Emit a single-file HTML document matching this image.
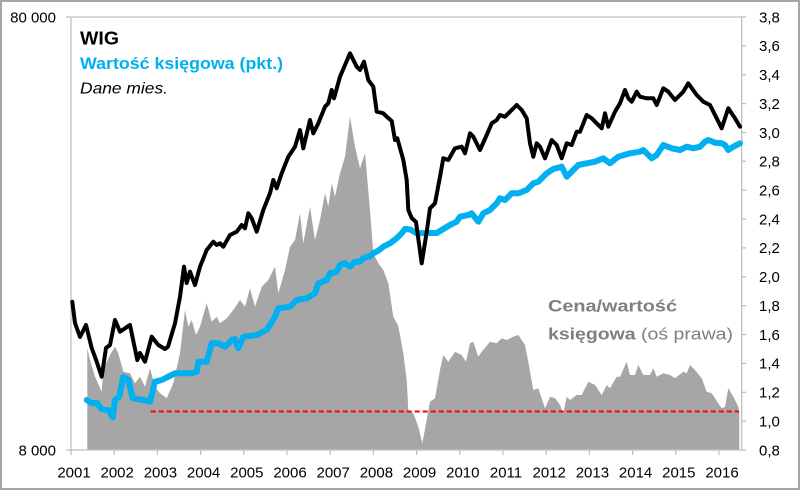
<!DOCTYPE html>
<html><head><meta charset="utf-8"><style>
html,body{margin:0;padding:0;background:#fff;}
svg{display:block;}
text{font-family:"Liberation Sans",sans-serif;}
</style></head><body>
<svg width="800" height="490" viewBox="0 0 800 490" xmlns="http://www.w3.org/2000/svg">
<rect x="1" y="1" width="798" height="488" fill="#fff" stroke="#a6a6a6" stroke-width="2"/>
<!-- gray area P/BV -->
<polygon fill="#a6a6a6" points="87.3,450 87.3,348.3 90,360 95,376.7 101.7,391.7 103.3,370 110,355 115,346.7 118.3,353.3 123.3,371.7 130,373.3 135,383.3 140,376.7 145,386.7 150,368.3 155,386.7 160,393.3 166.7,398.3 173.3,383.3 180,353.3 185,310 188.3,326.7 191.7,320 196,335 200,326.7 206.7,303.3 211.7,321.7 216.7,316.7 220,323.3 226.7,318.3 233.3,310 240,300 245,306.7 250,288.3 255,306.7 261.7,286.7 268.3,280 275,266.7 278.3,293.3 285,270 290,246.7 295,240 300,213.3 303.3,243.3 310,206.7 315,240 320,220 325,193.3 328.3,206.7 331.7,183.3 335,196.7 340,173.3 345,156.7 350,116.7 355,146.7 360,168.3 365,153.3 370,210 373.3,253.3 378.3,263.3 383.3,270 388.3,283.3 393.3,316.7 398.3,326 403.3,353.3 406.7,380 408.3,410 413.3,413.3 418.3,426.7 422.3,443.3 426.7,420 430,401.7 435,398.3 440,370 443.3,355 448.3,361.7 455,351.7 461.7,355 466,361.7 470,343.3 473.3,341.7 478.3,356.7 481.7,351.7 490,341.7 496.7,343.3 501.7,338.3 506.7,340 513.3,336.7 518.3,335 525,345 528.3,361.7 533.3,390 538.3,388.3 545,408.3 550,396.7 555,398.3 560,405 563.3,413.3 566.7,396.7 570,400 576.7,395 581.7,395 588.3,381.7 595,385 601.7,395 606.7,385 610,388.3 616.7,376.7 620,376.7 626.7,361.7 630,375 635,375 638.3,365 643.3,375 650,375 653.3,368.3 656.7,376.7 663.3,373.3 670,375 675,378.3 683.3,371.7 686.7,373.3 690,365 695,370 701.7,378.3 706.7,391.7 711.7,393.3 718.3,403.3 721.7,408.3 725,406.7 728.3,388.3 733.3,396.7 738.3,406.7 739.3,411.7 739.3,450"/>
<!-- axes -->
<g stroke="#bfbfbf" stroke-width="1.3" fill="none">
<line x1="66" y1="17" x2="742" y2="17"/>
<line x1="71" y1="17" x2="71" y2="455"/>
<line x1="66" y1="450" x2="742" y2="450"/>
<line x1="741.7" y1="17" x2="741.7" y2="450"/>
</g>
<g stroke="#bfbfbf" stroke-width="1.3">
<line x1="114.2" y1="450" x2="114.2" y2="455"/><line x1="157.4" y1="450" x2="157.4" y2="455"/><line x1="200.6" y1="450" x2="200.6" y2="455"/><line x1="243.8" y1="450" x2="243.8" y2="455"/><line x1="287" y1="450" x2="287" y2="455"/><line x1="330.2" y1="450" x2="330.2" y2="455"/><line x1="373.4" y1="450" x2="373.4" y2="455"/><line x1="416.6" y1="450" x2="416.6" y2="455"/><line x1="459.8" y1="450" x2="459.8" y2="455"/><line x1="503" y1="450" x2="503" y2="455"/><line x1="546.2" y1="450" x2="546.2" y2="455"/><line x1="589.4" y1="450" x2="589.4" y2="455"/><line x1="632.6" y1="450" x2="632.6" y2="455"/><line x1="675.8" y1="450" x2="675.8" y2="455"/><line x1="719" y1="450" x2="719" y2="455"/>
<line x1="741.7" y1="17" x2="746" y2="17"/><line x1="741.7" y1="45.9" x2="746" y2="45.9"/><line x1="741.7" y1="74.7" x2="746" y2="74.7"/><line x1="741.7" y1="103.6" x2="746" y2="103.6"/><line x1="741.7" y1="132.5" x2="746" y2="132.5"/><line x1="741.7" y1="161.3" x2="746" y2="161.3"/><line x1="741.7" y1="190.2" x2="746" y2="190.2"/><line x1="741.7" y1="219.1" x2="746" y2="219.1"/><line x1="741.7" y1="247.9" x2="746" y2="247.9"/><line x1="741.7" y1="276.8" x2="746" y2="276.8"/><line x1="741.7" y1="305.7" x2="746" y2="305.7"/><line x1="741.7" y1="334.5" x2="746" y2="334.5"/><line x1="741.7" y1="363.4" x2="746" y2="363.4"/><line x1="741.7" y1="392.3" x2="746" y2="392.3"/><line x1="741.7" y1="421.1" x2="746" y2="421.1"/><line x1="741.7" y1="450" x2="746" y2="450"/>
</g>
<!-- red dashed -->
<line x1="150.7" y1="411.5" x2="739" y2="411.5" stroke="#ff0000" stroke-width="2" stroke-dasharray="5,3"/>
<!-- blue line -->
<polyline fill="none" stroke="#00b0f0" stroke-width="6" stroke-linejoin="round" stroke-linecap="round" points="86.7,400 91.7,403.3 96.7,402.7 101.7,409.3 108.3,410 112.7,417.3 115,400 119.3,396.7 123.3,376.7 128.3,380 132.7,398.3 143.3,400 150,401.7 155,381.7 161.7,380 168.3,376.7 175,373.3 191.7,373.3 196.7,371.7 198.3,361.7 206.7,361.7 211.7,343.3 218.3,343.3 225,346.7 231.7,340 235,339 238.3,348.3 243.3,336.7 256.7,335 266.7,330 275,316.7 278.3,308.3 290,306.7 296.7,300 306.7,298.3 315,293.3 318.3,283.3 326.7,280 330,273.3 336.7,271.7 340,265 345,263.3 350,266.7 355,261.7 360,261.7 363.3,258.3 370,256 373.3,253.3 378.3,250.7 383.3,246.7 390,243.3 396.7,238.3 401.7,233.3 405,229 410,229.5 416.7,233.3 426.7,233 436.7,233 443.3,229 450,225 456.7,221.7 460,216.7 468.3,215 471.7,213.3 478.3,221.7 483.3,213.3 490,210 496.7,203.3 500,198.3 505,200 511.7,193.3 518.3,193.3 526.7,190 533.3,183.3 538.3,181.7 546.7,173.3 553.3,169 561.7,166.7 566.7,176.7 573.3,170 578.3,165 586.7,163.3 595,161.7 603.3,158.3 610,163.3 618.3,156.7 630,153.3 640,151.7 643.3,150 651.7,158.3 656.7,155 663.3,145 671.7,148.3 680,150 686.7,146.7 693.3,148.3 700,146.7 705,141.7 708.3,140 715,142.7 721.7,143.3 725,145 728.3,150 733.3,146.7 740,143.3"/>
<!-- black WIG -->
<polyline fill="none" stroke="#000" stroke-width="4" stroke-linejoin="round" stroke-linecap="round" points="72.3,301.7 75,323 80,337 86,325 91.7,348 96.7,361.7 101.7,376.7 106,348 110,345 115,320 120,331.7 130,325 137.3,360 140,353 145,361.7 151.7,336.7 158.3,345 165,349 168,346.7 175,323.3 180,296.7 184,266.7 186.7,283 190,271.7 195,285 200,266.7 206.7,250 213.3,241.7 216.7,245 220,243.3 223.3,246.7 230,235 236.7,231.7 241.7,225 245,228.3 248.3,213.3 251.7,218.3 256.7,231.7 263.3,210 270,193.3 273.3,180 276.7,188.3 281.7,173.3 288.3,156.7 295,146.7 300,130 303.3,148.3 310,120 313.3,133.3 318.3,123.3 325,106.7 328.3,103.3 331.7,90 334,98.3 340,76.7 345,65 350,53.3 356.7,66.7 360,70 364,61.7 368.3,80 373.3,86.7 376.7,111.7 383.3,113.3 386.7,116.7 391.7,121 395,140 397.3,138.3 403.3,160 406.7,180 408.3,210 411.7,218 416,222 421.7,263.3 426.7,232 430,208.3 435,203.3 440,176.7 443.3,158.3 448.3,160 455,148.3 461.7,146.7 465,153.3 470,133.3 473.3,136.7 480,150 486.7,135 491.7,123.3 496.7,120 500,115 505,116.7 510,111.7 516.7,105 521.7,110 526.7,118.3 530,143.3 533.3,156.7 536.7,143.3 540,146.7 545,158.3 551.7,140 556.7,145 561.7,158.3 566.7,143.3 571.7,145 576.7,131.7 580,131.7 586.7,115 591.7,118.3 596.7,123.3 601.7,128.3 605,113.3 608.3,126.7 615,111.7 620,103.3 625,90 628.3,98.3 631.7,101.7 636.7,91.7 640,96.7 646.7,98.3 653.3,98.3 656.7,105 663.3,88.3 668.3,91.7 675,100 683.3,91.7 688.3,83.3 696.7,95 703.3,101.7 710,105 721.7,128.3 728.3,108.3 735,118.3 740,126.7"/>
<!-- left axis labels -->
<g font-size="15" fill="#000" text-anchor="end">
<text x="56" y="22.3">80 000</text>
<text x="56" y="455.3">8 000</text>
</g>
<!-- right axis labels -->
<g font-size="15" fill="#000">
<text x="759" y="22.3">3,8</text><text x="759" y="51.2">3,6</text><text x="759" y="80">3,4</text><text x="759" y="108.9">3,2</text><text x="759" y="137.8">3,0</text><text x="759" y="166.6">2,8</text><text x="759" y="195.5">2,6</text><text x="759" y="224.4">2,4</text><text x="759" y="253.2">2,2</text><text x="759" y="282.1">2,0</text><text x="759" y="311">1,8</text><text x="759" y="339.8">1,6</text><text x="759" y="368.7">1,4</text><text x="759" y="397.6">1,2</text><text x="759" y="426.4">1,0</text><text x="759" y="455.3">0,8</text>
</g>
<!-- x labels -->
<g font-size="15" fill="#000" text-anchor="middle">
<text x="74" y="477.5">2001</text><text x="117.2" y="477.5">2002</text><text x="160.4" y="477.5">2003</text><text x="203.6" y="477.5">2004</text><text x="246.8" y="477.5">2005</text><text x="290" y="477.5">2006</text><text x="333.2" y="477.5">2007</text><text x="376.4" y="477.5">2008</text><text x="419.6" y="477.5">2009</text><text x="462.8" y="477.5">2010</text><text x="506" y="477.5">2011</text><text x="549.2" y="477.5">2012</text><text x="592.4" y="477.5">2013</text><text x="635.6" y="477.5">2014</text><text x="678.8" y="477.5">2015</text><text x="722" y="477.5">2016</text>
</g>
<!-- titles -->
<text x="80" y="44.5" font-size="18" font-weight="bold" fill="#000" textLength="39" lengthAdjust="spacingAndGlyphs">WIG</text>
<text x="80" y="69" font-size="17" font-weight="bold" fill="#00b0f0" textLength="203" lengthAdjust="spacingAndGlyphs">Wartość księgowa (pkt.)</text>
<text x="80" y="93.3" font-size="16" font-style="italic" fill="#000" textLength="88" lengthAdjust="spacingAndGlyphs">Dane mies.</text>
<text x="548" y="311.7" font-size="17" font-weight="bold" fill="#7f7f7f" textLength="129" lengthAdjust="spacingAndGlyphs">Cena/wartość</text>
<text x="548" y="339.3" font-size="17" fill="#7f7f7f" textLength="185" lengthAdjust="spacingAndGlyphs"><tspan font-weight="bold">księgowa</tspan> (oś prawa)</text>
</svg>
</body></html>
